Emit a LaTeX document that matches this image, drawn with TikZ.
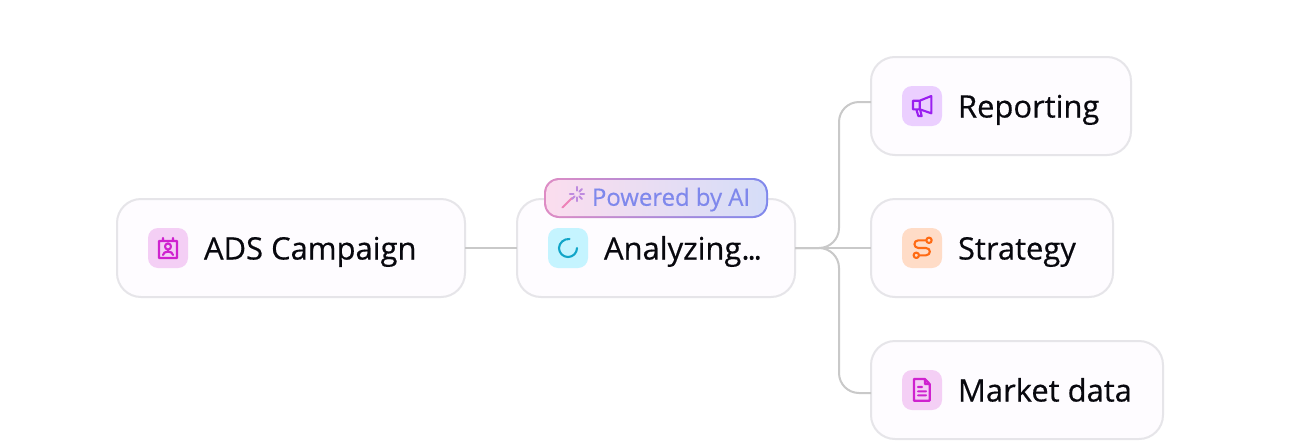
\documentclass[tikz,border=0pt]{standalone}
\usepackage{fontspec}
\setmainfont{Open Sans}
\newfontfamily\cardfont[FakeBold=0.45]{Open Sans}
\usetikzlibrary{positioning, calc}

\definecolor{cardline}{HTML}{E6E5E9}
\definecolor{cardfill}{HTML}{FEFCFF}
\definecolor{linkgray}{HTML}{C9C9C9}
\definecolor{inktext}{HTML}{08080E}
\definecolor{badgetext}{HTML}{7F88EC}
\definecolor{magentaicon}{HTML}{CF22CF}
\definecolor{magentabox}{HTML}{F4CFF5}
\definecolor{cyanicon}{HTML}{12A5C8}
\definecolor{cyanbox}{HTML}{C5F4FF}
\definecolor{purpleicon}{HTML}{9A1FF0}
\definecolor{purplebox}{HTML}{EBCFFF}
\definecolor{orangeicon}{HTML}{FF6A13}
\definecolor{orangebox}{HTML}{FFDCC7}
\definecolor{wandpink}{HTML}{EE82B8}
\definecolor{wandpurple}{HTML}{BE8ADF}
\definecolor{rimpink}{HTML}{DE8CC4}
\definecolor{rimmid}{HTML}{A98AE0}
\definecolor{glowpink}{HTML}{FBDDEE}
\definecolor{glowmid}{HTML}{EDE6FA}
\definecolor{glowblue}{HTML}{D5DDF8}

\begin{document}
\begin{tikzpicture}

	\tikzset{
		card/.style={
				rectangle, draw=cardline, fill=cardfill, line width=0.04cm, rounded corners=0.48cm, inner sep=0pt, outer sep=0pt, minimum height=1.96cm
			},
		iconbox/.style={
				rectangle, rounded corners=0.2cm, inner sep=0pt, outer sep=0pt, minimum size=0.8cm
			},
		cardtext/.style={
				inner sep=0pt, outer sep=0pt, text=inktext, text height=0.46cm, text depth=0cm, font=\cardfont\fontsize{17.6}{20}\selectfont
			},
		link/.style={
				draw=linkgray, line width=0.04cm, rounded corners=0.4cm
			},
		glyph/.style={
				x=0.02cm, y=-0.02cm, line width=0.042cm, line join=round, line cap=round
			},
	}
	\useasboundingbox[fill=white] (0,0) rectangle (26,-8.8);

	\node[card, minimum width=6.96cm](campaign) at (5.82,-4.96){};
	\node[card, minimum width=5.56cm, right=1.04cm of campaign](analyzing){};
	\node[card, minimum width=4.84cm, right=1.52cm of analyzing](strategy){};
	\node[card, minimum width=5.2cm, above=0.88cm of strategy.north west, anchor=south west](reporting){};
	\node[card, minimum width=5.84cm, below=0.88cm of strategy.south west, anchor=north west](market){};

	\coordinate (reportingin) at ([yshift=0.08cm]reporting.west);
	\coordinate (marketin) at ([yshift=-0.06cm]market.west);
	\coordinate (bus) at ([xshift=0.88cm]analyzing.east);

	\draw[link] (campaign.east)--(analyzing.west);
	\draw[link] (analyzing.east)--(strategy.west);
	\draw[link] (analyzing.east)-|(bus |- reportingin)--(reportingin);
	\draw[link] (analyzing.east)-|(bus |- marketin)--(marketin);

	\node[iconbox, fill=magentabox, right=0.62cm of campaign.west](campaignicon){};
	\node[iconbox, fill=cyanbox, right=0.62cm of analyzing.west](analyzingicon){};
	\node[iconbox, fill=purplebox, right=0.62cm of reporting.west](reportingicon){};
	\node[iconbox, fill=orangebox, right=0.62cm of strategy.west](strategyicon){};
	\node[iconbox, fill=magentabox, right=0.62cm of market.west](marketicon){};

	\node[cardtext, right=0.32cm of campaignicon](campaigntext){ADS Campaign};
	\node[cardtext, right=0.32cm of analyzingicon](analyzingtext){Analyzing.\kern-1.2pt.\kern-1.2pt.};
	\node[cardtext, right=0.32cm of reportingicon](reportingtext){Reporting};
	\node[cardtext, right=0.32cm of strategyicon](strategytext){Strategy};
	\node[cardtext, right=0.32cm of marketicon](markettext){Market data};

	\draw[glyph, draw=magentaicon, shift={(campaignicon.center)}] (-9,-7) rectangle (9,10)
		(-5,-10)--(-5,-7) (5,-10)--(5,-7)
		(0,-1.5) circle[radius=3]
		(-5,7) .. controls (-5,2.5) and (5,2.5) .. (5,7);
	\draw[glyph, draw=cyanicon, shift={(analyzingicon.center)}] (1.5,-9) .. controls (-4,-9.5) and (-9,-5) .. (-9,0)
		.. controls (-9,5) and (-5,9) .. (0,9) .. controls (5,9) and (9,5) .. (9,0);
	\draw[glyph, draw=purpleicon, shift={(reportingicon.center)}] (-9,-5.3)--(-2.3,-5.3)--(9.3,-10)--(9.3,7.3)--(-2.3,3.3)--(-9,3.3)--cycle
		(-2.3,-5.3)--(-2.3,3.3)
		(-5.7,3.3)--(-3.7,10)--(-0.3,10)--(-2,3.3);
	\draw[glyph, draw=orangeicon, shift={(strategyicon.center)}] (7,-7.7) circle[radius=2.7] (-5.7,7.3) circle[radius=2.7]
		(4.3,-7.7)--(-3.7,-7.7) .. controls (-8.8,-7.7) and (-8.8,0) .. (-3.7,0)
		--(4,0) .. controls (9.1,0) and (9.1,7.3) .. (4,7.3)--(-3,7.3);
	\draw[glyph, draw=magentaicon, shift={(marketicon.center)}] (3,-11)--(-8,-11)--(-8,10.7)--(7.7,10.7)--(7.7,-6)--cycle
		(3,-11)--(3,-6)--(7.7,-6)
		(-4,-3)--(0,-3) (-4,1.3)--(4,1.3) (-4,5.3)--(4,5.3);

	\node[rectangle, rounded corners=0.3cm, inner sep=0pt, outer sep=0pt, minimum width=4.48cm, minimum height=0.8cm, left color=rimpink, middle color=rimmid, right color=badgetext] (badgerim) at ([yshift=0.02cm]analyzing.north){};
	\node[rectangle, rounded corners=0.26cm, inner sep=0pt, outer sep=0pt, minimum width=4.4cm, minimum height=0.72cm, left color=glowpink, middle color=glowmid, right color=glowblue] (badge) at (badgerim.center){};
	\node[inner sep=0pt, outer sep=0pt, text=badgetext, font=\cardfont\fontsize{13.6}{16}\selectfont, text height=0.31cm, text depth=0cm, anchor=west] (badgelabel) at ([xshift=0.96cm]badgerim.west){Powered by AI};

	\draw[glyph, draw=wandpink, shift={(badgerim.center)}] (-93.5,9.5)--(-84,0);
	\foreach \a in {0,45,90,135,180,270,315}
		\draw[glyph, draw=wandpurple, shift={(badgerim.center)}] ($(-79,-4)+(\a:3.5)$)--($(-79,-4)+(\a:7)$);

\end{tikzpicture}
\end{document}
